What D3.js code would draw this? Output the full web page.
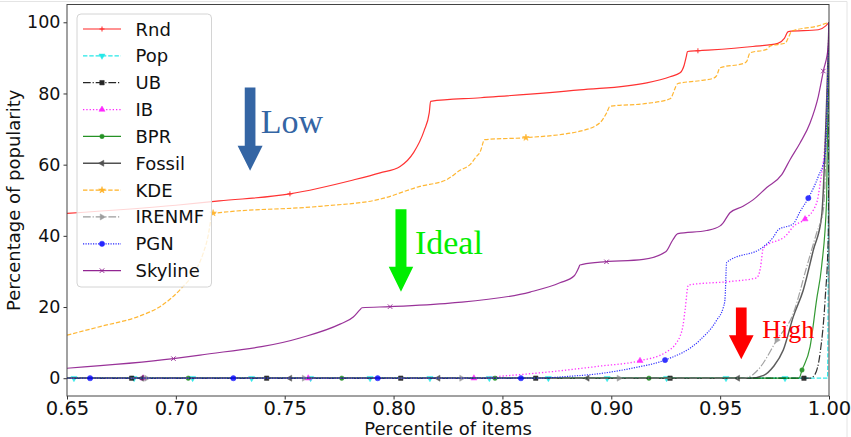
<!DOCTYPE html>
<html>
<head>
<meta charset="utf-8">
<script src="https://cdn.jsdelivr.net/npm/d3@7"></script>
<style>
  body { margin: 0; background: #fff; }
  svg { display: block; }
  text { font-family: "DejaVu Sans", sans-serif; fill: #111; }
</style>
</head>
<body>
<svg id="chart" width="851" height="437"></svg>
<script>
// ---- data: [percentile, % of popularity] ----
var rnd = [[0.65,46.3],[0.70,48.6],[0.72,49.8],[0.7524,51.8],[0.7815,55.7],[0.7938,57.7],[0.803,59.5],[0.8091,63.3],
  [0.8140,69.5],[0.8164,74.6],[0.8170,77.8],[0.840,78.8],[0.8856,81],[0.9163,83],[0.927,84.7],[0.9316,85.8],[0.9335,88],
  [0.9345,90.5],[0.935,91.8],[0.940,92.0],[0.965,93.2],[0.9765,94.1],[0.9795,95.5],[0.9813,97.4],[0.9951,97.9],[0.9985,99],[1.0,100]];
var pop = [[0.65,0],[0.9993,0],[1.0,100]];
var ub = [[0.65,0],[0.9913,0],[0.9935,1],[0.9959,7],[0.9982,22],[0.9997,40.8],[1.0,100]];
var ib = [[0.65,0],[0.8365,0],[0.85,0.6],[0.8719,1.8],[0.8948,3.4],[0.9132,4.9],[0.9254,7.4],[0.9300,10],[0.9316,11.8],
  [0.9330,15],[0.9339,19.2],[0.9354,26.2],[0.9550,27.2],[0.9668,28.2],[0.9685,31],[0.9698,36.5],[0.9806,40.3],[0.9836,42.6],
  [0.9890,44.7],[0.9943,49.2],[0.9960,55],[0.9985,70],[1.0,100]];
var bpr = [[0.65,0],[0.9862,0],[0.9876,2.3],[0.9913,8.8],[0.9943,22],[0.9966,31.4],[0.9989,50],[1.0,100]];
var fossil = [[0.65,0],[0.9637,0],[0.9700,0.8],[0.9744,3.2],[0.9790,7.9],[0.9836,17.3],[0.9882,24.8],[0.9928,36],[0.9966,45.4],[1.0,100]];
var kde = [[0.65,12.1],[0.6652,14.5],[0.6835,17.5],[0.6927,20.1],[0.7026,25.3],[0.7088,30],[0.7125,35],[0.7148,40],[0.7159,44],
  [0.7164,46.2],[0.7202,46.5],[0.7662,48.3],[0.7938,50.3],[0.8121,53.9],[0.8244,55.8],[0.8305,58.4],[0.8351,60],[0.8382,62.4],
  [0.8397,63.5],[0.8412,66.4],[0.8415,67.0],[0.8611,67.6],[0.8856,69.4],[0.8948,71.8],[0.8979,74.6],[0.8994,76.4],[0.9163,77.2],
  [0.927,78.5],[0.9306,82.8],[0.9407,83.6],[0.9470,84.3],[0.9484,85],[0.9499,87.2],[0.9610,88.5],[0.9622,89],[0.9637,91.4],
  [0.9714,92.4],[0.9729,93.3],[0.9800,94.2],[0.9812,95.5],[0.9829,97.5],[0.995,99],[1.0,100]];
var irenmf = [[0.65,0],[0.9605,0],[0.965,1.0],[0.9683,3],[0.9760,10.7],[0.9836,18.2],[0.9898,31.4],[0.9943,40.8],[0.9974,47.3],[1.0,100]];
var pgn = [[0.65,0],[0.865,0],[0.88,0.5],[0.8948,1.3],[0.9110,3],[0.9247,5.1],[0.9407,10.7],[0.9484,16.3],[0.9515,20],
  [0.9522,22],[0.9530,32.5],[0.9700,37],[0.9744,39.6],[0.9767,41.7],[0.9836,43.4],[0.9867,46.8],[0.9905,50.6],[0.9951,56.7],
  [0.9982,62.4],[1.0,100]];
var skyline = [[0.65,2.8],[0.6989,5.5],[0.7111,6.5],[0.757,11.3],[0.7754,15.2],[0.7815,17.2],[0.7845,19.2],[0.7855,19.8],
  [0.7984,20.1],[0.8259,21.1],[0.8627,24.2],[0.8764,26.8],[0.8830,28.8],[0.8850,31],[0.8856,31.8],[0.8948,32.6],[0.9147,33.4],
  [0.9250,35.5],[0.9283,38.9],[0.9306,40.6],[0.9438,41.5],[0.9500,42.8],[0.9513,43.6],[0.9545,46.5],[0.9605,48.3],[0.9651,50.1],
  [0.9714,53.6],[0.9783,57.2],[0.9821,61.4],[0.9867,66.1],[0.9913,71.7],[0.9951,79.2],[0.9974,86.3],[0.9997,93.4],[1.0,100]];

// marker positions (markevery)
var rndMarks = [[0.7524,51.8],[0.9398,92.0]];
var popMarks = [[0.6532,0],[0.6808,0],[0.7077,0],[0.7348,0],[0.7619,0],[0.7892,0],[0.8167,0],[0.8440,0],[0.8711,0],[0.8981,0],[0.9254,0],[0.9527,0],[0.9798,0]];
var ubMarks = [[0.6797,0],[0.7417,0],[0.8033,0],[0.8653,0],[0.9270,0],[0.9885,0]];
var ibMarks = [[0.6849,0],[0.7608,0],[0.8369,0],[0.9132,4.9],[0.9890,44.7]];
var bprMarks = [[0.7057,0],[0.7762,0],[0.8466,0],[0.9173,0],[0.9876,2.3]];
var fossilMarks = [[0.6843,0],[0.7524,0],[0.8205,0],[0.8890,0],[0.9581,0]];
var kdeMarks = [[0.7171,46.4],[0.8608,67.6]];
var irenmfMarks = [[0.6865,0],[0.7589,0],[0.8312,0],[0.9035,0],[0.9760,10.7]];
var pgnMarks = [[0.6606,0],[0.7264,0],[0.7927,0],[0.8585,0],[0.9247,5.1],[0.9905,50.6]];
var skylineMarks = [[0.6989,5.5],[0.7984,20.1],[0.8978,32.7],[0.9974,86.3]];

var names = ["Rnd", "Pop", "UB", "IB", "BPR", "Fossil", "KDE", "IRENMF", "PGN", "Skyline"];
var xTicks = [0.65, 0.70, 0.75, 0.80, 0.85, 0.90, 0.95, 1.00];
var yTicks = [0, 20, 40, 60, 80, 100];

// styles per series
var series = [
  { data: rnd, marks: rndMarks, color: "#ff0000", dash: null, w: 1.2, sym: "plus" },
  { data: pop, marks: popMarks, color: "#00e5e5", dash: "4.4,1.9", w: 1.2, sym: "tdown" },
  { data: ub, marks: ubMarks, color: "#000000", dash: "7.7,1.9,1.2,1.9", w: 1.2, sym: "square" },
  { data: ib, marks: ibMarks, color: "#ff00ff", dash: "1.3,2", w: 1.3, sym: "tup" },
  { data: bpr, marks: bprMarks, color: "#008000", dash: null, w: 1.2, sym: "circle" },
  { data: fossil, marks: fossilMarks, color: "#333333", dash: null, w: 1.5, sym: "tleft" },
  { data: kde, marks: kdeMarks, color: "#ffa500", dash: "4.4,1.9", w: 1.2, sym: "star" },
  { data: irenmf, marks: irenmfMarks, color: "#8c8c8c", dash: "7.7,1.9,1.2,1.9", w: 1.2, sym: "tright" },
  { data: pgn, marks: pgnMarks, color: "#0000ff", dash: "1.2,1.3", w: 1.2, sym: "bigcircle" },
  { data: skyline, marks: skylineMarks, color: "#800080", dash: null, w: 1.2, sym: "x" }
];
series.forEach(function (s, i) { s.name = names[i]; });

var svg = d3.select("#chart");
var pLeft = 67, pRight = 829, pTop = 4.5, pBottom = 396;

var x = d3.scaleLinear().domain([0.65, 1.0]).range([pLeft, pRight]);
var y = d3.scaleLinear().domain([-5, 105]).range([pBottom, pTop]);

// faint figure border
svg.append("line").attr("x1", 0).attr("x2", 847).attr("y1", 1.5).attr("y2", 1.5).attr("stroke", "#e4e4e4");
svg.append("line").attr("x1", 847).attr("x2", 847).attr("y1", 1.5).attr("y2", 437).attr("stroke", "#e4e4e4");

svg.append("defs").append("clipPath").attr("id", "clip")
  .append("rect").attr("x", pLeft).attr("y", pTop).attr("width", pRight - pLeft).attr("height", pBottom - pTop);

var line = d3.line()
  .x(function (d) { return x(d[0]); })
  .y(function (d) { return y(d[1]); })
  .curve(d3.curveMonotoneX);

function drawMarker(g, sym, cx, cy, color) {
  if (sym === "plus") {
    g.append("path").attr("d", "M" + (cx - 2.5) + "," + cy + "h5M" + cx + "," + (cy - 2.5) + "v5")
      .attr("stroke", color).attr("stroke-width", 1).attr("fill", "none");
    return;
  }
  if (sym === "x") {
    g.append("path").attr("d", "M" + (cx - 2.2) + "," + (cy - 2.2) + "l4.4,4.4M" + (cx - 2.2) + "," + (cy + 2.2) + "l4.4,-4.4")
      .attr("stroke", color).attr("stroke-width", 1).attr("fill", "none");
    return;
  }
  var rot = 0, type = d3.symbolTriangle, size = 16;
  if (sym === "tdown") { rot = 180; }
  else if (sym === "tleft") { rot = -90; }
  else if (sym === "tright") { rot = 90; }
  else if (sym === "square") { type = d3.symbolSquare; size = 20; }
  else if (sym === "circle") { type = d3.symbolCircle; size = 16; }
  else if (sym === "bigcircle") { type = d3.symbolCircle; size = 22; }
  else if (sym === "star") { type = d3.symbolStar; size = 14; }
  g.append("path").attr("d", d3.symbol().type(type).size(size)())
    .attr("transform", "translate(" + cx + "," + cy + ") rotate(" + rot + ")")
    .attr("fill", color).attr("stroke", color).attr("stroke-width", 0.5);
}

var plot = svg.append("g").attr("clip-path", "url(#clip)");

series.forEach(function (s) {
  var g = plot.append("g").attr("opacity", 0.8);
  g.append("path")
    .attr("d", line(s.data))
    .attr("fill", "none")
    .attr("stroke", s.color)
    .attr("stroke-width", s.w)
    .attr("stroke-dasharray", s.dash);
  s.marks.forEach(function (m) { drawMarker(g, s.sym, x(m[0]), y(m[1]), s.color); });
});

// axes
var xAxis = svg.append("g").attr("transform", "translate(0," + pBottom + ")")
  .call(d3.axisBottom(x).tickValues(xTicks).tickFormat(d3.format(".2f")).tickSize(3.5).tickPadding(2));
var yAxis = svg.append("g").attr("transform", "translate(" + pLeft + ",0)")
  .call(d3.axisLeft(y).tickValues(yTicks).tickFormat(d3.format("d")).tickSize(3.5).tickPadding(3));
[xAxis, yAxis].forEach(function (a) {
  a.select(".domain").remove();
  a.selectAll("line").attr("stroke", "#333");
  a.selectAll("text").style("font-family", "DejaVu Sans").attr("fill", "#111");
});
xAxis.selectAll("text").style("font-size", "19.5px");
yAxis.selectAll("text").style("font-size", "17.5px");

svg.append("rect").attr("x", pLeft).attr("y", pTop).attr("width", pRight - pLeft).attr("height", pBottom - pTop)
  .attr("fill", "none").attr("stroke", "#444").attr("stroke-width", 1);

svg.append("text").attr("x", (pLeft + pRight) / 2).attr("y", 434.5).attr("text-anchor", "middle")
  .style("font-size", "18px").text("Percentile of items");
svg.append("text").attr("transform", "translate(20," + ((pTop + pBottom) / 2) + ") rotate(-90)")
  .attr("text-anchor", "middle").style("font-size", "18px").text("Percentage of popularity");

// annotations (arrows + labels) in data units
var notes = [
  { label: "Low", color: "#3465a4", ax: 0.7341, yTop: 81.7, yHead: 65.3, yTip: 58.3, tx: 0.7390, ty: 68.8, fs: 34, sw: 10.7, hw: 25 },
  { label: "Ideal", color: "#00ee00", ax: 0.8034, yTop: 47.5, yHead: 31.3, yTip: 24.3, tx: 0.8098, ty: 34.9, fs: 34, sw: 11, hw: 24.5 },
  { label: "High", color: "#ff0000", ax: 0.9597, yTop: 19.9, yHead: 12.1, yTip: 5.3, tx: 0.9693, ty: 11.2, fs: 26, sw: 10.7, hw: 24.7 }
];
notes.forEach(function (n) {
  var cx = x(n.ax), yt = y(n.yTop), yh = y(n.yHead), yp = y(n.yTip);
  var pts = [[cx - n.sw / 2, yt], [cx + n.sw / 2, yt], [cx + n.sw / 2, yh], [cx + n.hw / 2, yh], [cx, yp],
    [cx - n.hw / 2, yh], [cx - n.sw / 2, yh]];
  svg.append("polygon").attr("points", pts.map(function (p) { return p.join(","); }).join(" ")).attr("fill", n.color);
  svg.append("text").attr("x", x(n.tx)).attr("y", y(n.ty))
    .style("font-family", "'Liberation Serif', 'DejaVu Serif', serif").style("font-size", n.fs + "px")
    .style("fill", n.color).text(n.label);
});

// legend
var lg = svg.append("g");
lg.append("rect").attr("x", 77).attr("y", 14).attr("width", 134.5).attr("height", 273).attr("rx", 4)
  .attr("fill", "#fff").attr("fill-opacity", 0.8).attr("stroke", "#d4d4d4").attr("stroke-width", 1);
series.forEach(function (s, i) {
  var ly = 29 + i * 26.85;
  var g = lg.append("g").attr("opacity", 0.85);
  g.append("line").attr("x1", 83).attr("x2", 121).attr("y1", ly).attr("y2", ly)
    .attr("stroke", s.color).attr("stroke-width", s.w).attr("stroke-dasharray", s.dash);
  drawMarker(g, s.sym, 102, ly, s.color);
  lg.append("text").attr("x", 135.5).attr("y", ly + 6.5).style("font-size", "18px").text(s.name);
});
</script>
</body>
</html>
